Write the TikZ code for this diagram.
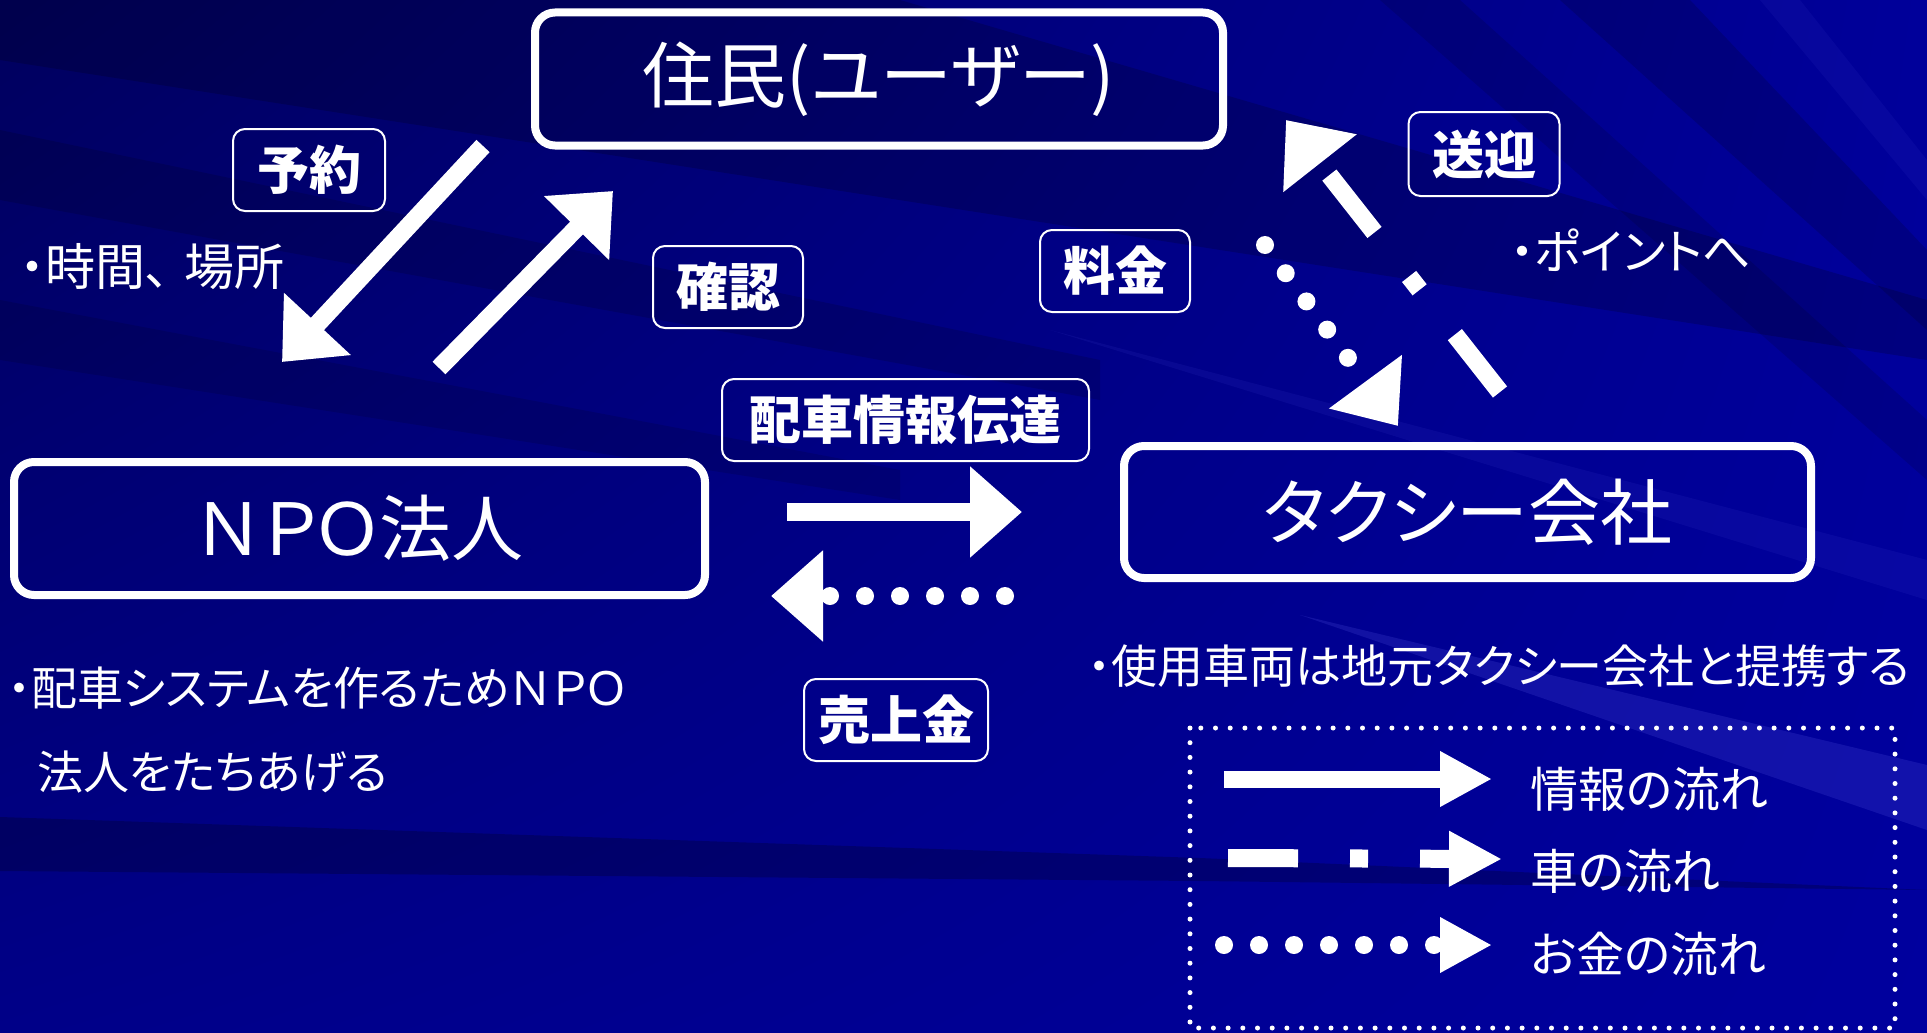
\documentclass[tikz,border=0pt]{standalone}
\usepackage{fontspec}
\setmainfont{Noto Sans CJK JP}[RawFeature=+palt]
\usetikzlibrary{arrows.meta,shadings}
\definecolor{bgUL}{HTML}{00005E}
\definecolor{bgUR}{HTML}{00009A}
\definecolor{bgLL}{HTML}{000088}
\definecolor{bgLR}{HTML}{00009E}
\definecolor{streakLight}{HTML}{4A4AD8}
\begin{document}
\begin{tikzpicture}[x=1pt,y=-1pt,
  mainbox/.style={draw=white, line width=8pt, rounded corners=20pt, minimum width=#1, minimum height=133pt, inner sep=0pt, text=white, font=\fontsize{72}{80}\selectfont},
  lbl/.style={draw=white, line width=2pt, rounded corners=12pt, minimum width=#1, minimum height=82pt, inner sep=0pt, text=white, font=\fontsize{52}{60}\selectfont\bfseries},
  note/.style={text=white, anchor=west, inner sep=0pt, font=\fontsize{48}{56}\selectfont},
  flow/.style={draw=white, line width=18pt},
  bighead/.style={-{Triangle[length=52pt,width=88pt]}},
  smallhead/.style={-{Triangle[length=52pt,width=52pt]}},
  dotflow/.style={flow, line cap=round, dash pattern=on 0pt off 35pt},
]
% ---------- background ----------
\useasboundingbox (0,0) rectangle (1927,1033);
\shade[upper left=bgUL, upper right=bgUR, lower left=bgLL, lower right=bgLR] (0,0) rectangle (1927,1033);
\fill[black, opacity=0.18] (0,0) -- (900,0) -- (1927,300) -- (1927,360) -- (0,60) -- cycle;
\fill[black, opacity=0.14] (0,130) -- (1100,360) -- (1100,400) -- (0,200) -- cycle;
\fill[black, opacity=0.12] (0,300) -- (900,470) -- (900,500) -- (0,360) -- cycle;
\fill[black, opacity=0.22] (0,817) -- (1200,858) -- (1927,890) -- (1200,881) -- (0,871) -- cycle;
\fill[black, opacity=0.15] (1560,0) -- (1690,0) -- (1927,250) -- (1927,330) -- cycle;
\fill[black, opacity=0.12] (1380,0) -- (1460,0) -- (1927,420) -- (1927,480) -- cycle;
\fill[streakLight, opacity=0.25] (1300,615) -- (1927,765) -- (1927,830) -- cycle;
\fill[streakLight, opacity=0.12] (1050,330) -- (1927,560) -- (1927,600) -- cycle;
\fill[streakLight, opacity=0.10] (1760,0) -- (1800,0) -- (1927,160) -- (1927,200) -- cycle;

% ---------- main boxes ----------
\node[mainbox=688pt] (user) at (879,79) {住民(ユーザー)};
\node[mainbox=691pt] (npo) at (359.5,528.5) {ＮＰＯ法人};
\node[mainbox=687pt, minimum height=132pt] (taxi) at (1467.5,512) {タクシー会社};

% ---------- labels ----------
\node[lbl=152pt] (lyoyaku) at (309,170) {予約};
\node[lbl=150pt] (lkakunin) at (728,287) {確認};
\node[lbl=150pt] (lryokin) at (1115,271) {料金};
\node[lbl=151pt, minimum height=84pt] (lsougei) at (1484,154) {送迎};
\node[lbl=367pt] (lhaisha) at (905.5,420) {配車情報伝達};
\node[lbl=184pt] (luriage) at (896,720) {売上金};

% ---------- notes ----------
\node[note, font=\fontsize{50}{58}\selectfont] (n1) at (20,267) {・時間、\hspace{14pt}場所};
\node[note] (n2) at (1510,250) {・ポイントへ};
\node[note, font=\fontsize{46}{54}\selectfont] (n3) at (8,688) {・配車システムを作るためＮＰＯ};
\node[note, font=\fontsize{46}{54}\selectfont] (n4) at (37,772) {法人をたちあげる};
\node[note, font=\fontsize{46}{54}\selectfont] (n5) at (1088,666) {・使用車両は地元タクシー会社と提携する};

% ---------- arrow end points ----------
\coordinate (rsvS) at (483,146);  \coordinate (rsvE) at (282,362);
\coordinate (cnfS) at (439,368);  \coordinate (cnfE) at (613,191);
\coordinate (feeS) at (1265,245); \coordinate (feeE) at (1398,426);
\coordinate (pickS) at (1500,392); \coordinate (pickE) at (1286,120);
\coordinate (infoS) at (787,512); \coordinate (infoE) at (1022,512);
\coordinate (saleS) at (1005,596); \coordinate (saleE) at (771,596);

% ---------- arrows ----------
\draw[flow, bighead] (rsvS) -- (rsvE);
\draw[flow, bighead] (cnfS) -- (cnfE);
\draw[flow, bighead] (infoS) -- (infoE);
\draw[dotflow, bighead] (saleS) -- (saleE);
\draw[dotflow, -{Triangle[length=55pt,width=87pt]}] (feeS) -- (feeE);
\draw[flow, dash pattern=on 73pt off 57pt on 17pt off 56pt on 73pt off 60pt, -{Triangle[length=55pt,width=90pt]}] (pickS) -- (pickE);

% ---------- legend ----------
\draw[white, line width=5pt, line cap=round, dash pattern=on 0pt off 14.7pt] (1190,728) rectangle (1895,1028);
\coordinate (lg1S) at (1224,779); \coordinate (lg1E) at (1492,779);
\coordinate (lg2S) at (1228,858); \coordinate (lg2E) at (1502,859);
\coordinate (lg3S) at (1224,945); \coordinate (lg3E) at (1492,945);
\draw[flow, line width=17pt, smallhead] (lg1S) -- (lg1E);
\draw[flow, dash pattern=on 70pt off 52pt on 18pt off 52pt on 200pt off 0pt, -{Triangle[length=53pt,width=52pt]}] (lg2S) -- (lg2E);
\draw[dotflow, smallhead] (lg3S) -- (lg3E);
\node[note] (t1) at (1530,789) {情報の流れ};
\node[note] (t2) at (1530,871) {車の流れ};
\node[note] (t3) at (1530,954) {お金の流れ};
\end{tikzpicture}
\end{document}
